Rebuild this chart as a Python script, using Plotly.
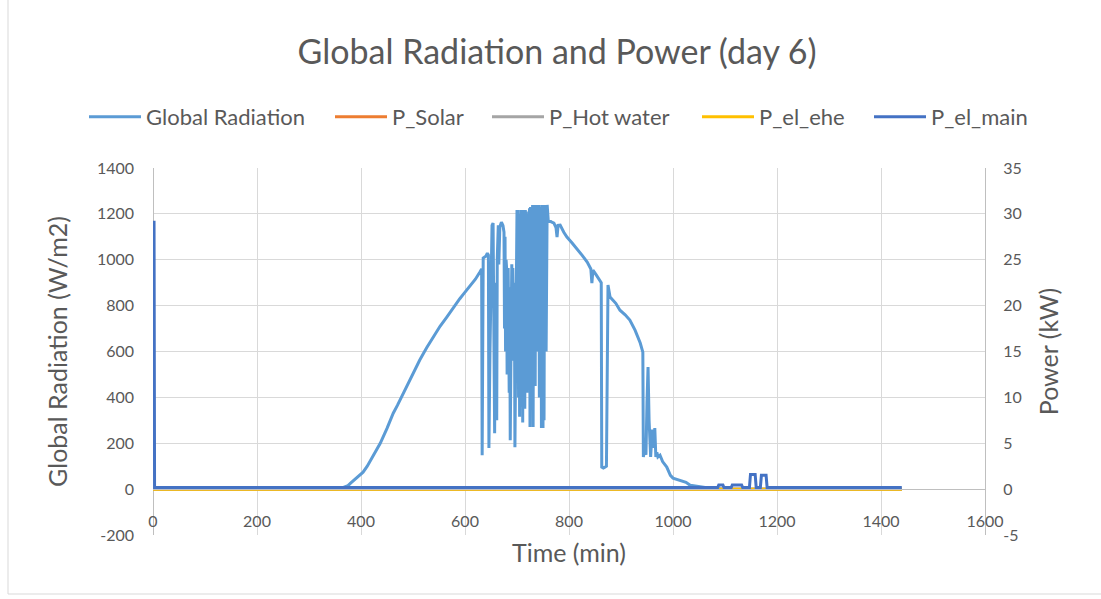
import plotly.graph_objects as go

# ---------------- data ----------------
# Global radiation (W/m2), in three segments (minutes / W/m2)
rise_time = [0, 340, 355, 365, 375, 380, 390, 400, 404, 412,
             420, 428, 437, 450, 462, 470, 475, 488, 500, 513,
             526, 539, 552, 565, 580, 590, 597, 610, 620, 629,
             632]
rise_value = [0, 0, 2, 6, 15, 26, 45, 65, 74, 100,
              130, 163, 200, 265, 331, 365, 388, 445, 500, 563,
              615, 663, 710, 750, 800, 830, 850, 885, 915, 948,
              960]

cloud_time = [633, 635, 640, 643, 645, 646, 648, 650, 652, 654,
              655, 656, 657, 658, 659, 660, 661, 662, 663, 664,
              665, 667, 670, 673, 675, 676, 677, 678, 679, 680,
              681, 683, 684, 685, 686, 687, 689, 690, 691, 692,
              694, 695, 696, 698, 700, 701, 702, 703, 704, 705,
              706, 707, 708, 709, 710, 711, 712, 713, 714, 715,
              716, 717, 718, 719, 720, 721, 722, 723, 724, 725,
              726, 727, 728, 729, 730, 731, 732, 733, 734, 735,
              736, 737, 738, 739, 740, 741, 742, 743, 744, 745,
              746, 747, 748, 749, 750, 751, 752, 753, 754, 755,
              756, 758]
cloud_value = [148, 1007, 1015, 1029, 1020, 179, 600, 1000, 1150, 1160,
               900, 500, 244, 700, 520, 900, 300, 1000, 1120, 1150,
               980, 1143, 1164, 1150, 1120, 700, 1100, 600, 1000, 964,
               500, 964, 700, 420, 880, 213, 760, 980, 700, 964,
               560, 900, 183, 900, 1217, 1180, 1217, 400, 1150, 315,
               1200, 380, 1217, 360, 1210, 290, 1217, 600, 1210, 350,
               1217, 532, 1210, 420, 1200, 760, 1190, 500, 1225, 271,
               1230, 600, 1230, 500, 1239, 271, 1220, 724, 1239, 450,
               1239, 880, 1239, 724, 1230, 600, 1239, 400, 1230, 800,
               1200, 266, 1239, 700, 266, 1239, 300, 1239, 900, 1239,
               600, 1239]

fall_time = [760, 766, 771, 775, 777, 779, 783, 790, 796, 806,
             815, 825, 835, 842, 844, 846, 852, 860, 862, 863,
             866, 869, 872, 875, 879, 890, 898, 908, 917, 927,
             937, 942, 943, 945, 948, 950, 952, 954, 957, 960,
             963, 965, 967, 969, 971, 975, 980, 988, 995, 1000,
             1013, 1025, 1033, 1045, 1052, 1065, 1080, 1100, 1440]
fall_value = [1173, 1165, 1160, 1140, 1099, 1150, 1151, 1120, 1099, 1073,
              1050, 1020, 990, 960, 898, 955, 935, 911, 900, 96,
              92, 96, 100, 890, 837, 810, 780, 760, 737, 693,
              637, 597, 140, 170, 150, 380, 532, 300, 140, 260,
              180, 266, 140, 160, 140, 148, 120, 96, 60, 48,
              39, 30, 17, 12, 10, 6, 3, 0, 0]

# Power series (kW)
solar_time = [0, 1440]
solar_value = [0, 0]
hotwater_time = [0, 1440]
hotwater_value = [0, 0]
ehe_time = [0, 1440]
ehe_value = [0, 0]
main_time = [0, 2, 3, 1086, 1088, 1096, 1098, 1112, 1114, 1121, 1124, 1132, 1134,
             1147, 1149, 1158, 1160, 1168, 1170, 1179, 1181, 1440]
main_value = [29.1, 29.1, 0.18, 0.18, 0.45, 0.45, 0.18, 0.18, 0.45, 0.45, 0.45, 0.45, 0.18,
              0.18, 1.6, 1.6, 0.18, 0.18, 1.5, 1.5, 0.18, 0.18]

x_ticks = [0, 200, 400, 600, 800, 1000, 1200, 1400, 1600]
left_ticks = [-200, 0, 200, 400, 600, 800, 1000, 1200, 1400]
right_ticks = [-5, 0, 5, 10, 15, 20, 25, 30, 35]

rad_time = rise_time + cloud_time + fall_time
rad_value = rise_value + cloud_value + fall_value

FONT = "Lato"
TXT = "#595959"
GRID = "#d9d9d9"

# plot area in pixels: left 153, width 832
def px_to_paper(px):
    return (px - 153) / 832

fig = go.Figure()
fig.add_trace(go.Scatter(x=rad_time, y=rad_value, name="Global Radiation", mode="lines",
                         line=dict(color="#5B9BD5", width=3), legend="legend", showlegend=True))
fig.add_trace(go.Scatter(x=solar_time, y=solar_value, name="P_Solar", mode="lines", yaxis="y2",
                         line=dict(color="#ED7D31", width=3), legend="legend2"))
fig.add_trace(go.Scatter(x=hotwater_time, y=hotwater_value, name="P_Hot water", mode="lines", yaxis="y2",
                         line=dict(color="#A5A5A5", width=3), legend="legend3"))
fig.add_trace(go.Scatter(x=ehe_time, y=ehe_value, name="P_el_ehe", mode="lines", yaxis="y2",
                         line=dict(color="#FFC000", width=3), legend="legend4"))
fig.add_trace(go.Scatter(x=main_time, y=main_value, name="P_el_main", mode="lines", yaxis="y2",
                         line=dict(color="#4472C4", width=3), legend="legend5"))

legend_y = (535 - 117) / 367
def leg(px_left):
    return dict(orientation="h", x=px_to_paper(px_left), xanchor="left",
                y=legend_y, yanchor="middle", visible=True,
                font=dict(size=22, color=TXT, family=FONT), bgcolor="rgba(0,0,0,0)",
                itemwidth=52)

fig.update_layout(
    width=1101, height=599,
    showlegend=True,
    margin=dict(l=153, r=116, t=168, b=64),
    paper_bgcolor="white", plot_bgcolor="white",
    font=dict(family=FONT, color=TXT, size=15),
    title=dict(text="Global Radiation and Power (day 6)", x=0.506, xanchor="center",
               y=1 - 52 / 599, yanchor="middle", font=dict(size=34, color=TXT, family=FONT)),
    legend=leg(84), legend2=leg(330), legend3=leg(487), legend4=leg(697), legend5=leg(869),
    xaxis=dict(range=[0, 1600], tickvals=x_ticks, ticktext=[str(v) for v in x_ticks],
               anchor="free", position=200 / 1600,
               showgrid=True, gridcolor=GRID, gridwidth=1, zeroline=True, zerolinecolor="#bfbfbf",
               zerolinewidth=1, showline=True, linecolor="#bfbfbf", linewidth=1, ticks="",
               ticklabelstandoff=18, tickfont=dict(size=16, color=TXT),
               title=dict(text="Time (min)", font=dict(size=25, color=TXT), standoff=15)),
    yaxis=dict(range=[-200, 1400], tickvals=left_ticks, ticktext=[str(v) for v in left_ticks],
               showgrid=True, gridcolor=GRID, gridwidth=1, zeroline=False,
               showline=False, ticks="", ticklabelstandoff=18,
               tickfont=dict(size=16, color=TXT),
               title=dict(text="Global Radiation (W/m2)", font=dict(size=25, color=TXT), standoff=22)),
    yaxis2=dict(range=[-5, 35], tickvals=right_ticks, ticktext=[str(v) for v in right_ticks],
                overlaying="y", side="right", showgrid=False, zeroline=False,
                showline=True, linecolor="#bfbfbf", linewidth=1, ticks="", ticklabelstandoff=14,
                tickfont=dict(size=16, color=TXT),
                title=dict(text="Power (kW)", font=dict(size=25, color=TXT), standoff=19)),
    shapes=[dict(type="rect", xref="paper", yref="paper",
                 x0=(8 - 153) / 832, x1=(1108 - 153) / 832,
                 y0=(535 - 594) / 367, y1=(535 + 8) / 367,
                 line=dict(color="#d9d9d9", width=1), fillcolor="rgba(0,0,0,0)", layer="below")],
)

fig.write_html("out.html")
